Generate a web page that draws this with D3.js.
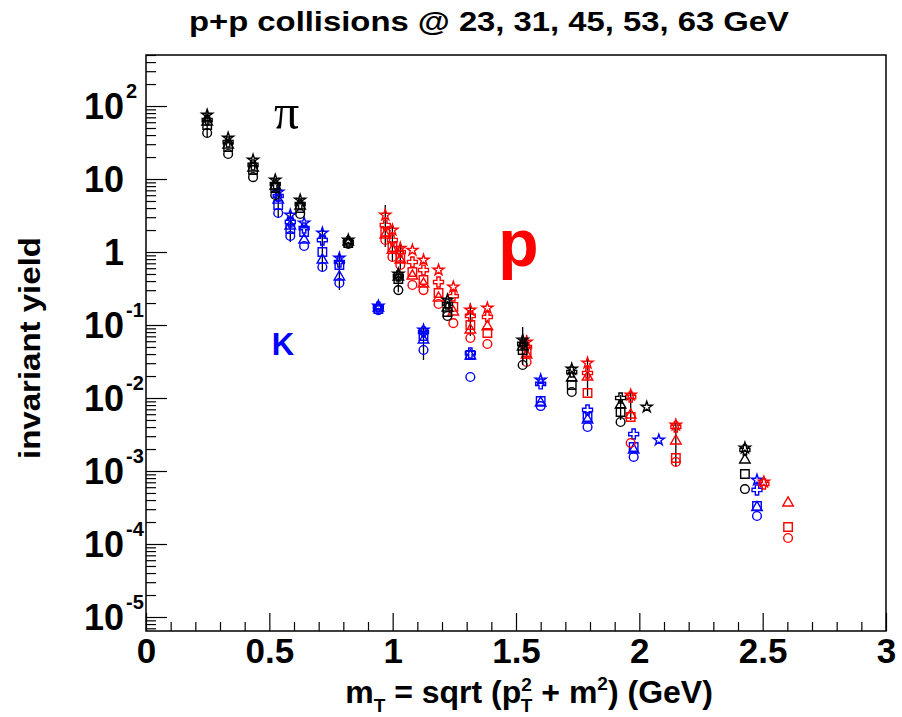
<!DOCTYPE html>
<html>
<head>
<meta charset="utf-8">
<script src="https://cdn.jsdelivr.net/npm/d3@7"></script>
<style>
body { margin: 0; background: #fff; }
svg { display: block; }
</style>
</head>
<body>
<div id="chart"></div>
<script>
// energies -> marker (23 circle, 31 square, 45 triangle, 53 cross, 63 star)
const energies = ["23", "31", "45", "53", "63"];

// pions (black)
const piMT = [0.248, 0.333, 0.434, 0.524, 0.625, 0.820, 1.023, 1.222, 1.527, 1.726, 1.924, 2.030, 2.428];
const pi23 = [42.7, 22.0, 10.6, 6.04, 3.32, 1.29, 0.301, 0.133, 0.0283, 0.0121, 0.00469, null, 0.000566];
const pi31 = [54.9, 27.4, 13.3, 7.53, 4.01, 1.33, 0.427, 0.151, 0.0455, 0.0151, 0.00643, null, 0.00091];
const pi45 = [60.4, 29.2, 14.2, 8.02, 4.27, 1.37, 0.455, 0.171, 0.0500, 0.0188, 0.00802, null, 0.00142];
const pi53 = [64.3, 32.1, 15.6, 8.55, 4.55, 1.37, 0.469, 0.194, 0.0550, 0.0227, 0.0100, null, 0.00194];
const pi63 = [75.4, 36.5, 18.2, 9.68, 5.15, 1.46, 0.500, 0.220, 0.0624, 0.0249, null, 0.00753, 0.00207];

// kaons (blue)
const kMT = [0.536, 0.585, 0.641, 0.715, 0.784, 0.942, 1.125, 1.315, 1.600, 1.790, 1.977, 2.079, 2.477];
const k23 = [3.42, 1.66, 1.21, 0.623, 0.376, 0.160, 0.0455, 0.0194, 0.00776, 0.00401, 0.00156, null, 0.000242];
const k31 = [4.40, 2.07, 1.88, 1.00, 0.664, 0.166, 0.0707, 0.0388, 0.0091, 0.0055, 0.00213, null, 0.000332];
const k45 = [5.15, 2.27, 1.46, 0.777, 0.455, 0.171, 0.0624, 0.0376, 0.00855, 0.0050, 0.00194, null, 0.000316];
const k53 = [5.85, 2.58, 2.13, 1.46, 0.730, 0.176, 0.0802, 0.0413, 0.0156, 0.00686, 0.00321, null, 0.000550];
const k63 = [6.64, 3.21, 2.50, 1.82, 0.828, 0.182, 0.0855, null, 0.0177, null, null, 0.00266, 0.000753];

// protons (red)
const pMT = [0.970, 0.999, 1.031, 1.080, 1.125, 1.186, 1.246, 1.315, 1.384, 1.543, 1.790, 1.965, 2.148, 2.505, 2.603];
const p23 = [1.46, 0.855, 0.664, 0.353, 0.301, 0.194, 0.106, 0.0664, 0.0550, 0.0311, null, 0.00242, 0.00133, null, 0.000121];
const p31 = [1.88, 1.17, 0.828, 0.532, 0.413, 0.274, 0.177, 0.100, 0.0777, 0.0427, 0.0117, 0.00550, 0.00151, null, 0.000171];
const p45 = [1.71, 1.06, 0.777, 0.469, 0.365, 0.234, 0.151, 0.0855, 0.095, 0.0388, 0.0194, 0.00585, 0.00258, null, 0.000365];
const p53 = [2.34, 1.46, 1.00, 0.730, 0.566, 0.388, 0.249, 0.133, 0.129, 0.0500, 0.0220, 0.0103, 0.00401, 0.000664, null];
const p63 = [3.21, 2.00, 1.13, 1.06, 0.777, 0.566, 0.332, 0.160, 0.171, 0.0585, 0.0301, 0.0110, 0.00427, 0.000706, null];

// visible vertical error bars [mT, low, high]
const piErr = [[0.248, 37.6, 88], [1.023, 0.28, 0.52], [1.527, 0.0283, 0.094], [1.924, 0.005, 0.011]];
const kErr = [[0.536, 2.92, 7.06], [0.585, 1.37, 3.53], [0.715, 0.532, 2.13], [0.784, 0.301, 0.91], [1.125, 0.0332, 0.091]];
const pErr = [[0.970, 1.17, 4.40], [0.999, 0.730, 2.34], [1.031, 0.566, 1.25], [1.315, 0.0707, 0.200],
              [1.543, 0.0283, 0.073], [1.790, 0.0106, 0.0332], [1.965, 0.005, 0.0129], [2.148, 0.00114, 0.00455]];

const xTicks = [0, 0.5, 1, 1.5, 2, 2.5, 3];
const yExps = [-5, -4, -3, -2, -1, 0, 1, 2];

const W = 902, H = 717;
const frame = { left: 146, right: 886, top: 55, bottom: 631 };
const sans = "'Liberation Sans', Arial, Helvetica, sans-serif";

const svg = d3.select("#chart").append("svg")
    .attr("width", W)
    .attr("height", H)
    .style("font-family", sans)
    .style("font-weight", "bold");

svg.append("rect").attr("width", W).attr("height", H).attr("fill", "#fff");

const x = d3.scaleLinear().domain([0, 3]).range([frame.left, frame.right]);
const y = d3.scaleLog().domain([6.43e-6, 500]).range([frame.bottom, frame.top]);

// frame
svg.append("rect")
    .attr("x", frame.left).attr("y", frame.top)
    .attr("width", frame.right - frame.left).attr("height", frame.bottom - frame.top)
    .attr("fill", "none").attr("stroke", "#000").attr("stroke-width", 1.5);

// x axis ticks (inside)
const xMinor = d3.range(0, 31).map(d => d / 10).filter(d => Math.round(d * 10) % 5 !== 0);
svg.append("g")
    .attr("transform", `translate(0,${frame.bottom})`)
    .call(d3.axisBottom(x).tickValues(xMinor).tickSize(-9).tickFormat(""))
    .call(g => g.select(".domain").remove());
svg.append("g")
    .attr("transform", `translate(0,${frame.bottom})`)
    .call(d3.axisBottom(x).tickValues(xTicks).tickSize(-18).tickPadding(7).tickFormat(d3.format("~g")))
    .call(g => g.select(".domain").remove())
    .call(g => g.selectAll(".tick text")
        .attr("fill", "#000")
        .style("font-size", "35px")
        .style("font-family", sans)
        .style("font-weight", "bold"));

// y axis ticks (inside, log)
const yMinor = [];
d3.range(-6, 3).forEach(e => {
    for (let m = 2; m <= 9; m++) {
        const v = m * Math.pow(10, e);
        if (v >= y.domain()[0] && v <= y.domain()[1]) yMinor.push(v);
    }
});
svg.append("g")
    .attr("transform", `translate(${frame.left},0)`)
    .call(d3.axisLeft(y).tickValues(yMinor).tickSize(-10).tickFormat(""))
    .call(g => g.select(".domain").remove());
svg.append("g")
    .attr("transform", `translate(${frame.left},0)`)
    .call(d3.axisLeft(y).tickValues(yExps.map(e => Math.pow(10, e))).tickSize(-21).tickFormat(""))
    .call(g => g.select(".domain").remove());
svg.selectAll(".tick line").attr("stroke", "#000").attr("stroke-width", 1.2);

// y tick labels with superscripts
const yLab = svg.append("g");
yExps.forEach(e => {
    const yy = y(Math.pow(10, e));
    yLab.append("text")
        .attr("x", 124).attr("y", yy + 13)
        .attr("text-anchor", "end")
        .style("font-size", "36px")
        .text(e === 0 ? "1" : "10");
    if (e !== 0 && e !== 1) {
        yLab.append("text")
            .attr("x", 126).attr("y", yy - 8)
            .style("font-size", "20px")
            .text(e);
    }
});

// title & axis titles
svg.append("text")
    .attr("x", 489).attr("y", 31)
    .attr("text-anchor", "middle")
    .style("font-size", "28px")
    .attr("textLength", 600)
    .attr("lengthAdjust", "spacingAndGlyphs")
    .text("p+p collisions @ 23, 31, 45, 53, 63 GeV");

svg.append("text")
    .attr("transform", "translate(40,348) rotate(-90)")
    .attr("text-anchor", "middle")
    .style("font-size", "30px")
    .attr("textLength", 222)
    .attr("lengthAdjust", "spacingAndGlyphs")
    .text("invariant yield");

const xt = svg.append("text")
    .attr("x", 529).attr("y", 703)
    .attr("text-anchor", "middle")
    .style("font-size", "32px");
xt.append("tspan").text("m");
xt.append("tspan").style("font-size", "19px").attr("dy", 9).text("T");
xt.append("tspan").attr("dy", -9).text(" = sqrt (p");
xt.append("tspan").style("font-size", "19px").attr("dy", -12).text("2");
xt.append("tspan").style("font-size", "19px").attr("dx", -11).attr("dy", 21).text("T");
xt.append("tspan").attr("dy", -9).text(" + m");
xt.append("tspan").style("font-size", "19px").attr("dy", -13).text("2");
xt.append("tspan").attr("dy", 13).text(") (GeV)");

// data marks
const shapes = {
    "23": { type: d3.symbolCircle, size: 60 },
    "31": { type: d3.symbolSquare, size: 72 },
    "45": { type: d3.symbolTriangle, size: 48 },
    "53": { type: d3.symbolCross, size: 55 },
    "63": { type: d3.symbolStar, size: 38 }
};

const particles = [
    { name: "K", color: "#0000ff", mT: kMT, series: [k23, k31, k45, k53, k63], err: kErr },
    { name: "p", color: "#ff0000", mT: pMT, series: [p23, p31, p45, p53, p63], err: pErr },
    { name: "pi", color: "#000000", mT: piMT, series: [pi23, pi31, pi45, pi53, pi63], err: piErr }
];

const plot = svg.append("g");
particles.forEach(pt => {
    const g = plot.append("g").attr("class", "particle-" + pt.name);
    g.selectAll(".err")
        .data(pt.err)
        .enter()
        .append("line")
        .attr("x1", d => x(d[0])).attr("x2", d => x(d[0]))
        .attr("y1", d => y(d[1])).attr("y2", d => y(d[2]))
        .attr("stroke", "#000").attr("stroke-width", 1.3);
    pt.series.forEach((vals, i) => {
        const sh = shapes[energies[i]];
        const pts = pt.mT.map((m, j) => ({ m: m, v: vals[j] })).filter(d => d.v != null);
        g.selectAll(".m" + energies[i])
            .data(pts)
            .enter()
            .append("path")
            .attr("class", "m" + energies[i])
            .attr("transform", d => `translate(${x(d.m)},${y(d.v)})`)
            .attr("d", d3.symbol().type(sh.type).size(sh.size))
            .attr("fill", "none")
            .attr("stroke", pt.color)
            .attr("stroke-width", 1.4);
    });
});

// particle labels
svg.append("text")
    .attr("x", x(0.57)).attr("y", y(48))
    .attr("text-anchor", "middle")
    .style("font-family", "'Liberation Serif', 'Times New Roman', serif")
    .style("font-weight", "normal")
    .style("font-size", "50px")
    .text("π");
svg.append("text")
    .attr("x", x(0.555)).attr("y", y(0.0388))
    .attr("text-anchor", "middle")
    .attr("fill", "#0000ff")
    .style("font-size", "31px")
    .text("K");
svg.append("text")
    .attr("x", x(1.51)).attr("y", y(0.64))
    .attr("text-anchor", "middle")
    .attr("fill", "#ff0000")
    .style("font-size", "66px")
    .text("p");
</script>
</body>
</html>
